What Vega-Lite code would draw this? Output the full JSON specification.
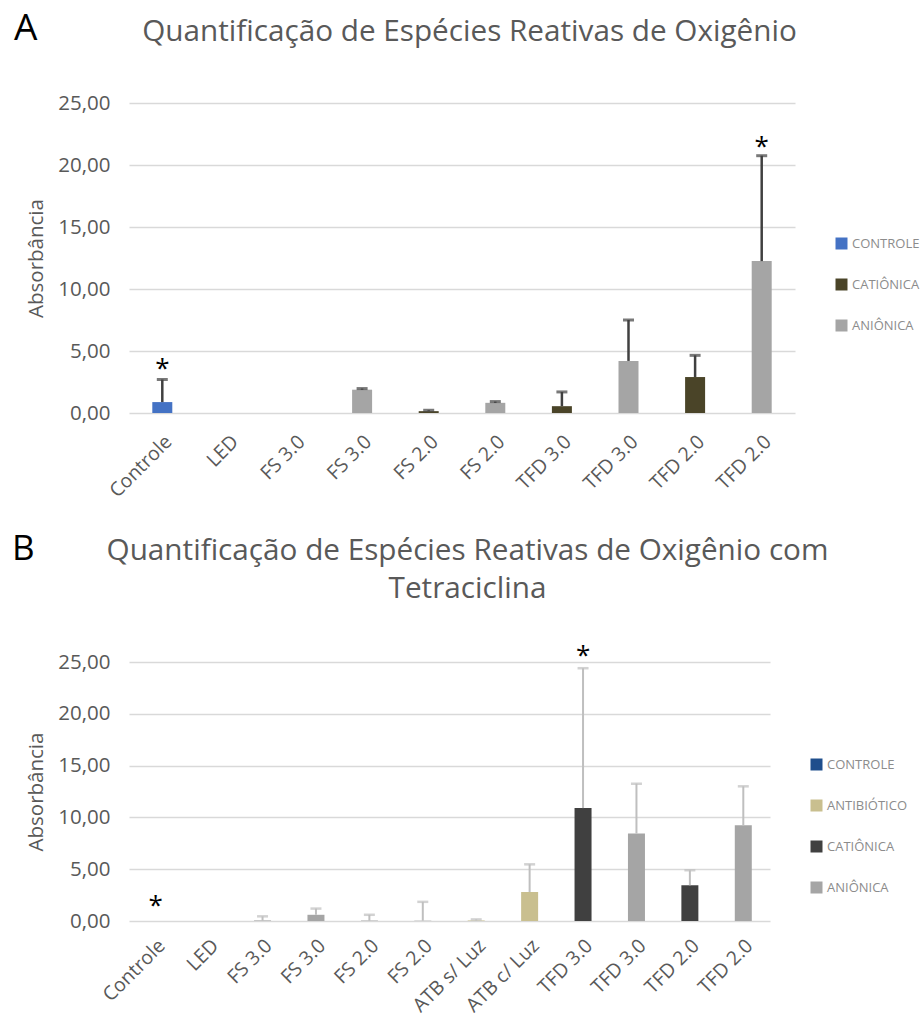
{
  "$schema": "https://vega.github.io/schema/vega-lite/v6.json",
  "padding": {"left": 12, "top": 10, "right": 0, "bottom": 0},
  "spacing": 30,
  "config": {
    "font": "Open Sans",
    "view": {"stroke": null},
    "axisY": {
      "grid": true, "gridColor": "#d9d9d9", "gridWidth": 1.5, "domain": false, "ticks": false,
      "labelFontSize": 20.5, "labelColor": "#595959", "labelPadding": 19,
      "titleFontSize": 20.5, "titleColor": "#595959", "titleFontWeight": "normal", "titlePadding": 11,
      "labelExpr": "replace(format(datum.value, '.2f'), '.', ',')"
    },
    "axisX": {
      "grid": false, "domain": false, "ticks": false, "labelAngle": -45,
      "labelColor": "#595959",
      "labelExpr": "split(datum.label, '|')[1]"
    },
    "legend": {
      "orient": "none", "title": null, "symbolType": "square", "symbolSize": 144,
      "symbolStrokeWidth": 0, "labelFontSize": 13, "labelColor": "#8c8c8c",
      "labelOffset": 4, "rowPadding": 27, "labelLimit": 200
    }
  },
  "resolve": {"scale": {"color": "independent", "y": "independent"}, "legend": {"color": "independent"}},
  "datasets": {
    "a": [
      {"k": "1|Controle", "g": "CONTROLE", "v": 0.88, "hi": 2.7, "star": 3.9},
      {"k": "2|LED", "g": "CONTROLE", "v": 0, "hi": null, "star": null},
      {"k": "3|FS 3.0", "g": "CATIÔNICA", "v": 0, "hi": null, "star": null},
      {"k": "4|FS 3.0", "g": "ANIÔNICA", "v": 1.88, "hi": 1.97, "star": null},
      {"k": "5|FS 2.0", "g": "CATIÔNICA", "v": 0.15, "hi": 0.22, "star": null},
      {"k": "6|FS 2.0", "g": "ANIÔNICA", "v": 0.82, "hi": 0.92, "star": null},
      {"k": "7|TFD 3.0", "g": "CATIÔNICA", "v": 0.55, "hi": 1.7, "star": null},
      {"k": "8|TFD 3.0", "g": "ANIÔNICA", "v": 4.2, "hi": 7.5, "star": null},
      {"k": "9|TFD 2.0", "g": "CATIÔNICA", "v": 2.9, "hi": 4.65, "star": null},
      {"k": "10|TFD 2.0", "g": "ANIÔNICA", "v": 12.25, "hi": 20.75, "star": 21.8}
    ],
    "b": [
      {"k": "1|Controle", "g": "CONTROLE", "v": 0, "hi": null, "star": 1.83},
      {"k": "2|LED", "g": "CONTROLE", "v": 0, "hi": null, "star": null},
      {"k": "3|FS 3.0", "g": "CATIÔNICA", "v": 0.02, "hi": 0.45, "star": null},
      {"k": "4|FS 3.0", "g": "ANIÔNICA", "v": 0.6, "hi": 1.2, "star": null},
      {"k": "5|FS 2.0", "g": "CATIÔNICA", "v": 0.02, "hi": 0.6, "star": null},
      {"k": "6|FS 2.0", "g": "ANIÔNICA", "v": 0.03, "hi": 1.85, "star": null},
      {"k": "7|ATB s/ Luz", "g": "ANTIBIÓTICO", "v": 0.05, "hi": 0.15, "star": null},
      {"k": "8|ATB c/ Luz", "g": "ANTIBIÓTICO", "v": 2.8, "hi": 5.47, "star": null},
      {"k": "9|TFD 3.0", "g": "CATIÔNICA", "v": 10.9, "hi": 24.4, "star": 26.0},
      {"k": "10|TFD 3.0", "g": "ANIÔNICA", "v": 8.44, "hi": 13.26, "star": null},
      {"k": "11|TFD 2.0", "g": "CATIÔNICA", "v": 3.45, "hi": 4.9, "star": null},
      {"k": "12|TFD 2.0", "g": "ANIÔNICA", "v": 9.24, "hi": 13.0, "star": null}
    ]
  },
  "vconcat": [
    {
      "title": {"text": "A", "anchor": "start", "frame": "group", "fontSize": 37, "fontWeight": "normal", "color": "#000000", "dy": 35, "dx": -115},
      "vconcat": [
        {
          "width": 666, "height": 310,
          "title": {"text": "Quantificação de Espécies Reativas de Oxigênio", "fontSize": 29.7, "fontWeight": "normal", "color": "#595959", "offset": 45, "dx": 7.5},
          "data": {"name": "a"},
          "encoding": {"x": {"field": "k", "type": "nominal", "sort": null, "title": null, "axis": {"labelFontSize": 19.5, "labelPadding": 19}}},
          "layer": [
            {
              "mark": {"type": "bar", "width": 20},
              "encoding": {
                "y": {"field": "v", "type": "quantitative", "scale": {"domain": [0, 25]}, "title": "Absorbância", "axis": {"values": [0, 5, 10, 15, 20, 25]}},
                "color": {"field": "g", "type": "nominal",
                  "scale": {"domain": ["CONTROLE", "CATIÔNICA", "ANIÔNICA"], "range": ["#4472c4", "#4a4428", "#a5a5a5"]},
                  "legend": {"legendX": 706, "legendY": 134}}
              }
            },
            {
              "mark": {"type": "rule", "color": "#404040", "strokeWidth": 2.5},
              "encoding": {"y": {"field": "v", "type": "quantitative", "scale": {"domain": [0, 25]}}, "y2": {"field": "hi"}}
            },
            {
              "mark": {"type": "tick", "color": "#404040", "thickness": 3, "size": 11},
              "encoding": {"y": {"field": "hi", "type": "quantitative", "scale": {"domain": [0, 25]}}}
            },
            {
              "mark": {"type": "text", "text": "*", "fontSize": 26, "color": "#000000", "baseline": "alphabetic", "dy": 12},
              "encoding": {"y": {"field": "star", "type": "quantitative", "scale": {"domain": [0, 25]}}}
            }
          ]
        }
      ]
    },
    {
      "title": {"text": "B", "anchor": "start", "frame": "group", "fontSize": 35, "fontWeight": "normal", "color": "#000000", "dy": 35, "dx": -117},
      "vconcat": [
        {
          "width": 641, "height": 259,
          "title": {"text": ["Quantificação de Espécies Reativas de Oxigênio com", "Tetraciclina"], "lineHeight": 38, "fontSize": 29.7, "fontWeight": "normal", "color": "#595959", "offset": 38, "dx": 18},
          "data": {"name": "b"},
          "encoding": {"x": {"field": "k", "type": "nominal", "sort": null, "title": null, "axis": {"labelFontSize": 19.5, "labelPadding": 15}}},
          "layer": [
            {
              "mark": {"type": "bar", "width": 17},
              "encoding": {
                "y": {"field": "v", "type": "quantitative", "scale": {"domain": [0, 25]}, "title": "Absorbância", "axis": {"values": [0, 5, 10, 15, 20, 25]}},
                "color": {"field": "g", "type": "nominal",
                  "scale": {"domain": ["CONTROLE", "ANTIBIÓTICO", "CATIÔNICA", "ANIÔNICA"], "range": ["#1f4e8c", "#c9bf8f", "#404040", "#a5a5a5"]},
                  "legend": {"legendX": 681, "legendY": 96}}
              }
            },
            {
              "mark": {"type": "rule", "color": "#bfbfbf", "strokeWidth": 2},
              "encoding": {"y": {"field": "v", "type": "quantitative", "scale": {"domain": [0, 25]}}, "y2": {"field": "hi"}}
            },
            {
              "mark": {"type": "tick", "color": "#bfbfbf", "thickness": 2.5, "size": 11},
              "encoding": {"y": {"field": "hi", "type": "quantitative", "scale": {"domain": [0, 25]}}}
            },
            {
              "mark": {"type": "text", "text": "*", "fontSize": 26, "color": "#000000", "baseline": "alphabetic", "dy": 12},
              "encoding": {"y": {"field": "star", "type": "quantitative", "scale": {"domain": [0, 25]}}}
            }
          ]
        }
      ]
    }
  ]
}
